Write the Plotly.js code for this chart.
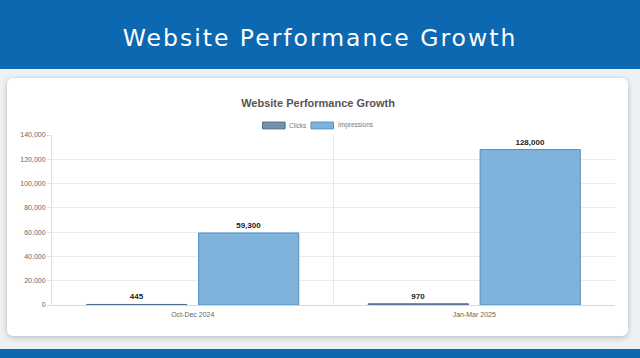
<!DOCTYPE html>
<html>
<head>
<meta charset="utf-8">
<script src="https://cdn.plot.ly/plotly-3.0.1.min.js"></script>
<style>
  html, body { margin:0; padding:0; width:640px; height:358px; overflow:hidden; background:#eef1f4; font-family:"Open Sans", sans-serif; }
  #header { position:absolute; left:0; top:0; width:640px; height:69px; background:#0b68b1; color:#fff;
            font-family:"DejaVu Sans", sans-serif; font-size:23.5px; font-weight:normal; text-align:center; line-height:76px; letter-spacing:2px; }
  #card { position:absolute; left:7px; top:78px; width:621px; height:258px; background:#fff; border-radius:6px;
          box-shadow: 0 2px 6px rgba(0,0,0,0.18), 0 0 3px rgba(0,0,0,0.08); }
  #footer { position:absolute; left:0; top:349px; width:640px; height:9px; background:#0b68b1; }
  #chart { position:absolute; left:0; top:0; width:640px; height:358px; }
</style>
</head>
<body>
<div id="header">Website Performance Growth</div>
<div id="card"></div>
<div id="footer"></div>
<div id="chart"></div>
<script>
const categories = ["Oct-Dec 2024", "Jan-Mar 2025"];
const seriesNames = ["Clicks", "Impressions"];
const clicks = [445, 970];
const impressions = [59300, 128000];
const yTicks = [0, 20000, 40000, 60000, 80000, 100000, 120000, 140000];
const fmt = v => v.toLocaleString("en-US");

const fills = ["rgba(91,127,160,0.85)", "rgba(127,179,220,1)"];
const borders = ["#4a6d8f", "#4f8fc4"];
const valueFont = {family:"Liberation Sans, Arial, sans-serif", size:8, color:"#222", weight:"bold"};

const traces = [clicks, impressions].map((vals, i) => ({
  type:"bar", name:seriesNames[i], x:categories, y:vals,
  marker:{color:fills[i], line:{color:borders[i], width:1}},
  text:vals.map(fmt), textposition:"outside", cliponaxis:false, textfont:valueFont
}));

// custom legend (wide rectangular swatches like the reference)
const legendY0 = 1.036, legendY1 = 1.076;
const swatchX = [0.374, 0.460];
const shapes = [{type:"line", xref:"paper", yref:"paper", x0:0.5, x1:0.5, y0:0, y1:1, line:{color:"#e6e6e6", width:1}}];
const annotations = [];
seriesNames.forEach((n, i) => {
  shapes.push({type:"rect", xref:"paper", yref:"paper", x0:swatchX[i], x1:swatchX[i] + 0.040, y0:legendY0, y1:legendY1,
               fillcolor:fills[i], line:{color:borders[i], width:1}});
  annotations.push({xref:"paper", yref:"paper", x:swatchX[i] + 0.044, y:(legendY0 + legendY1) / 2, xanchor:"left", yanchor:"middle",
                    text:n, showarrow:false, font:{family:"Liberation Sans Narrow, Liberation Sans, Arial, sans-serif", size:6.5, color:"#777"}});
});

const layout = {
  width:640, height:358,
  paper_bgcolor:"rgba(0,0,0,0)", plot_bgcolor:"rgba(0,0,0,0)",
  margin:{l:52, r:25, t:135, b:53},
  title:{text:"Website Performance Growth", x:0.497, xanchor:"center", y:0.712, yanchor:"middle",
         font:{family:"Liberation Sans, Arial, sans-serif", size:11, color:"#555", weight:"bold"}},
  showlegend:false,
  barmode:"group", bargap:0.205, bargroupgap:0.105,
  xaxis:{type:"category", showgrid:false, showline:false, ticks:"",
         tickfont:{family:"Liberation Sans, Arial, sans-serif", size:7, color:"#666"}, ticklabelstandoff:4},
  yaxis:{range:[0,140000], tickvals:yTicks, ticktext:yTicks.map(fmt),
         showgrid:true, gridcolor:"#ececec", gridwidth:1, zeroline:true, zerolinecolor:"#d8d8d8",
         showline:true, linecolor:"#e0e0e0", ticks:"outside", ticklen:4, tickcolor:"#e0e0e0",
         tickfont:{family:"Liberation Sans, Arial, sans-serif", size:7, color:"#666"}},
  shapes:shapes, annotations:annotations
};
Plotly.newPlot("chart", traces, layout, {displayModeBar:false, staticPlot:true});
</script>
</body>
</html>
